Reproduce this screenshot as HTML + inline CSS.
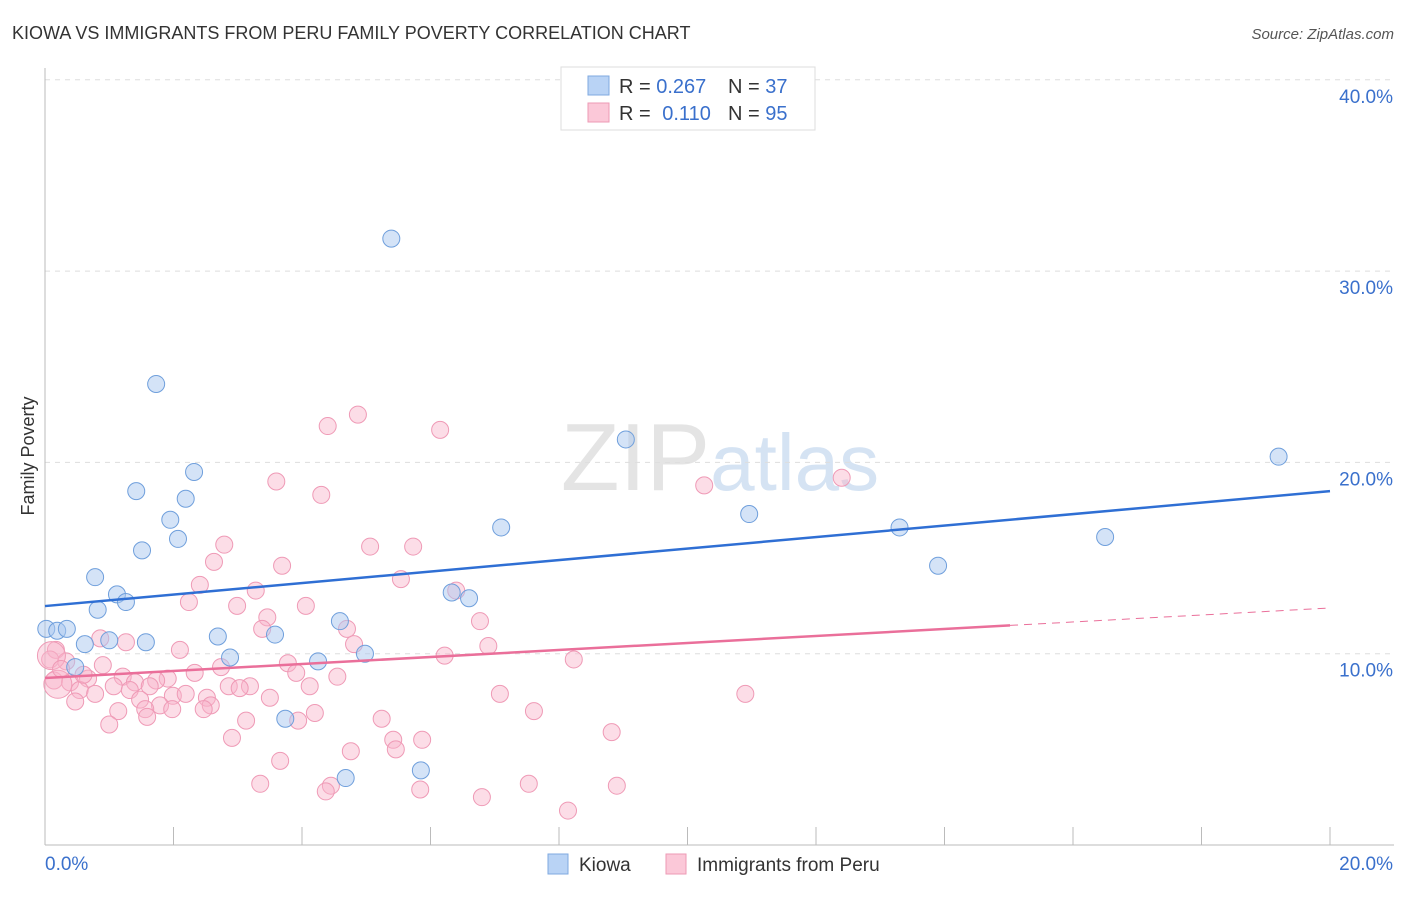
<!DOCTYPE html>
<html><head><meta charset="utf-8"><style>
body{margin:0;background:#fff;font-family:"Liberation Sans",sans-serif}
svg text{font-family:"Liberation Sans",sans-serif}
</style></head><body>
<svg id="chart" width="1406" height="892" xmlns="http://www.w3.org/2000/svg">
<text x="12" y="39" font-size="18" fill="#333">KIOWA VS IMMIGRANTS FROM PERU FAMILY POVERTY CORRELATION CHART</text>
<text x="1394" y="39" font-size="15" fill="#555" font-style="italic" text-anchor="end">Source: ZipAtlas.com</text>
<text x="720" y="490" font-size="96" text-anchor="middle" fill="#e4e4e4" font-family="Liberation Serif">ZIP<tspan fill="#d5e3f3" font-family="Liberation Sans" font-size="80">atlas</tspan></text>
<text transform="translate(34,456) rotate(-90)" font-size="18" fill="#333" text-anchor="middle">Family Poverty</text>
<g id="grid"></g><g id="axes"></g><g id="pink"></g><g id="blue"></g><g id="trends"></g>
<g>
<rect x="561" y="67" width="254" height="63" fill="#fff" stroke="#ddd"/>
<rect x="588" y="76" width="21" height="19" fill="#b9d3f5" stroke="#7fa9e0"/>
<rect x="588" y="103" width="21" height="19" fill="#fbc8d8" stroke="#ee9ab5"/>
<text x="619" y="93" font-size="20" fill="#333">R = <tspan fill="#3a70cc">0.267</tspan><tspan x="728">N = </tspan><tspan fill="#3a70cc">37</tspan></text>
<text x="619" y="120" font-size="20" fill="#333">R = <tspan fill="#3a70cc" dx="6">0.110</tspan><tspan x="728">N = </tspan><tspan fill="#3a70cc">95</tspan></text>
</g>
<g>
<rect x="548" y="854" width="20" height="20" fill="#b9d3f5" stroke="#7fa9e0"/>
<text x="579" y="871" font-size="19" fill="#333">Kiowa</text>
<rect x="666" y="854" width="20" height="20" fill="#fbc8d8" stroke="#ee9ab5"/>
<text x="697" y="871" font-size="19" fill="#333">Immigrants from Peru</text>
</g>
</svg>
<script>
const xTicks=[0,20];
const yTicks=[10,20,30,40];
const blueX=[5.39,1.73,9.04,19.2,2.32,1.42,2.19,1.95,7.10,10.96,13.3,2.07,16.5,1.51,13.9,0.78,1.12,6.33,6.6,0.82,1.26,4.59,0.02,0.19,0.34,2.69,3.58,1.0,1.57,0.62,4.98,2.88,4.25,0.47,3.74,5.85,4.68];
const blueY=[31.7,24.1,21.2,20.3,19.5,18.5,18.1,17.0,16.6,17.3,16.6,16.0,16.1,15.4,14.6,14.0,13.1,13.2,12.9,12.3,12.7,11.7,11.3,11.2,11.3,10.9,11.0,10.7,10.6,10.5,10.0,9.8,9.6,9.3,6.6,3.9,3.5];
const pinkX=[4.87,4.40,6.15,3.6,4.3,10.26,12.4,2.79,5.06,5.73,2.63,3.69,2.41,5.54,3.28,6.4,2.24,2.99,4.06,3.46,6.77,3.38,4.70,0.86,1.26,4.81,6.9,2.1,6.22,8.23,0.17,0.08,0.33,0.9,2.74,3.78,3.91,2.33,0.67,1.21,1.91,1.73,4.55,0.14,0.39,0.54,1.4,1.07,1.63,3.19,2.86,3.03,4.12,1.32,1.99,0.78,2.19,2.52,3.5,7.08,10.9,1.48,0.47,1.79,2.58,1.56,1.98,2.47,1.14,1.59,4.2,7.61,5.24,3.13,3.94,1.0,8.82,2.91,5.42,5.87,5.46,4.76,3.66,3.35,4.45,7.53,8.9,4.37,5.84,6.8,8.14,0.2,0.1,0.25,0.6];
const pinkY=[22.5,21.9,21.7,19.0,18.3,18.8,19.2,15.7,15.6,15.6,14.8,14.6,13.6,13.9,13.3,13.3,12.7,12.5,12.5,11.9,11.7,11.3,11.3,10.8,10.6,10.5,10.4,10.2,9.9,9.7,10.2,9.7,9.6,9.4,9.3,9.5,9.0,9.0,8.7,8.8,8.7,8.6,8.8,8.6,8.5,8.1,8.5,8.3,8.3,8.3,8.3,8.2,8.3,8.1,7.8,7.9,7.9,7.7,7.7,7.9,7.9,7.6,7.5,7.3,7.3,7.1,7.1,7.1,7.0,6.7,6.9,7.0,6.6,6.5,6.5,6.3,5.9,5.6,5.5,5.5,5.0,4.9,4.4,3.2,3.1,3.2,3.1,2.8,2.9,2.5,1.8,8.4,9.9,9.2,8.9];
const pinkBig=[91,92];
const blueTrend=[12.49,18.5];
const pinkTrend=[8.73,12.39];
const pinkSolidEnd=15.02;
const ns="http://www.w3.org/2000/svg";
const X=v=>45+v/20*1285, Y=v=>845-v*19.13;
function mk(tag,attrs,parent){const e=document.createElementNS(ns,tag);for(const k in attrs)e.setAttribute(k,attrs[k]);document.getElementById(parent).appendChild(e);return e;}
yTicks.forEach(t=>{
 const l=mk('line',{x1:45,x2:1394,y1:Y(t),y2:Y(t),stroke:'#ddd','stroke-dasharray':'5,5'},'grid');
 
 
 const tx=mk('text',{x:1393,y:Y(t)+23,'font-size':19,fill:'#3a70cc','text-anchor':'end'},'grid');
 tx.textContent=t.toFixed(1)+'%';
 
 
});
mk('line',{x1:45,x2:45,y1:68,y2:845,stroke:'#bbb'},'axes');
mk('line',{x1:45,x2:1394,y1:845,y2:845,stroke:'#bbb'},'axes');
for(let i=1;i<=10;i++){const l=mk('line',{x1:X(i*2),x2:X(i*2),y1:827,y2:845,stroke:'#bbb'},'axes');
 
 }
xTicks.forEach((t,i)=>{const tx=mk('text',{x:i?1393:45,y:870,'font-size':19,fill:'#3a70cc','text-anchor':i?'end':'start'},'axes');tx.textContent=t.toFixed(1)+'%';
 
 });
pinkX.forEach((v,i)=>{const big=pinkBig.includes(i);const c=mk('circle',{cx:X(v),cy:Y(pinkY[i]),r:big?14:8.5,fill:'rgba(248,180,202,0.45)',stroke:'#ef9ab6','stroke-width':1},'pink');
 
 });
blueX.forEach((v,i)=>{const c=mk('circle',{cx:X(v),cy:Y(blueY[i]),r:8.5,fill:'rgba(170,200,240,0.5)',stroke:'#6f9fdc','stroke-width':1},'blue');
 
 });
const bt=mk('line',{x1:X(0),y1:Y(blueTrend[0]),x2:X(20),y2:Y(blueTrend[1]),stroke:'#2f6fd4','stroke-width':2.5},'trends');


const pm=v=>pinkTrend[0]+(pinkTrend[1]-pinkTrend[0])*v/20;
const pt=mk('line',{x1:X(0),y1:Y(pm(0)),x2:X(pinkSolidEnd),y2:Y(pm(pinkSolidEnd)),stroke:'#ea6f9a','stroke-width':2.5},'trends');


const pd=mk('line',{x1:X(pinkSolidEnd),y1:Y(pm(pinkSolidEnd)),x2:X(20),y2:Y(pm(20)),stroke:'#ea6f9a','stroke-width':1,'stroke-dasharray':'8,6'},'trends');


</script>
</body></html>
